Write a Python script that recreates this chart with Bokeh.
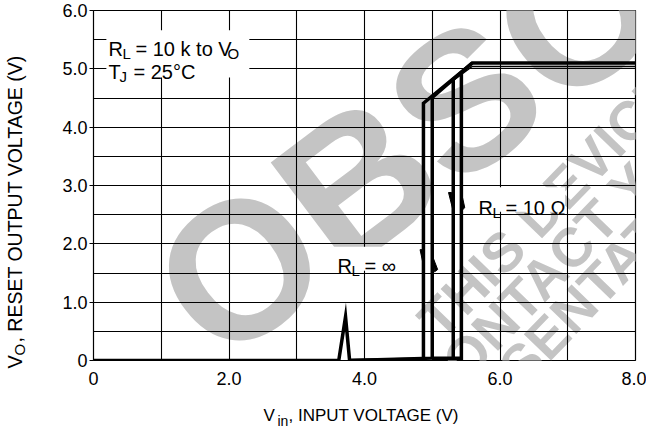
import math
from bokeh.plotting import figure
from bokeh.layouts import row, column
from bokeh.models import FixedTicker, Label, BoxAnnotation, Range1d
from bokeh.embed import file_html
from bokeh.resources import INLINE

# ---------------- data ----------------
x_ticks = [0, 2, 4, 6, 8]
x_tick_labels = ["0", "2.0", "4.0", "6.0", "8.0"]
y_ticks = [0, 1, 2, 3, 4, 5, 6]
y_tick_labels = ["0", "1.0", "2.0", "3.0", "4.0", "5.0", "6.0"]
x_grid = [0, 1, 2, 3, 4, 5, 6, 7, 8]
y_grid = [0, 0.5, 1, 1.5, 2, 2.5, 3, 3.5, 4, 4.5, 5, 5.5, 6]

# R_L = infinity : rising Vin path and falling Vin path
inf_up_x = [0.0, 3.62, 3.72, 3.78, 5.00, 5.00, 5.59, 8.0]
inf_up_y = [0.0, 0.0, 0.75, 0.0, 0.04, 4.51, 5.10, 5.10]
inf_dn_x = [5.59, 4.87, 4.87, 3.78]
inf_dn_y = [5.10, 4.41, 0.02, 0.0]

# R_L = 10 ohm : rising and falling paths
r10_up_x = [5.00, 5.43, 5.43]
r10_up_y = [0.04, 0.04, 4.93]
r10_dn_x = [5.31, 5.31]
r10_dn_y = [4.84, 0.04]
r10_top_x = [8.0, 5.59, 5.31]
r10_top_y = [5.04, 5.04, 4.80]

# direction arrowheads on the hysteresis lines
arrow_xs = [[4.82, 4.865, 4.885], [5.00, 5.035, 5.08],
            [5.24, 5.285, 5.305], [5.43, 5.445, 5.48]]
arrow_ys = [[1.90, 1.90, 1.55], [1.80, 1.52, 1.56],
            [2.88, 2.88, 2.58], [2.88, 2.58, 2.62]]

FONT = "Liberation Sans"
W, H = 646, 428
YT_W = 40          # strip holding the y-axis title
XT_H = 36          # strip holding the x-axis title
PW, PH = W - YT_W, H - XT_H
L_B, R_B, T_B, B_B = 93 - YT_W, 11, 10, 32

p = figure(width=PW, height=PH, x_range=(0, 8), y_range=(0, 6),
           output_backend="svg", toolbar_location=None,
           min_border_left=L_B, min_border_right=R_B, min_border_top=T_B,
           min_border_bottom=B_B, background_fill_color="white",
           border_fill_color="white")
p.outline_line_color = "black"
p.outline_line_width = 1.2

# grid
p.xgrid.ticker = FixedTicker(ticks=x_grid)
p.ygrid.ticker = FixedTicker(ticks=y_grid)
for g in (p.xgrid, p.ygrid):
    g.grid_line_color = "black"
    g.grid_line_width = 1.1
    g.grid_line_alpha = 1.0

# axes
p.xaxis.ticker = FixedTicker(ticks=x_ticks)
p.xaxis.major_label_overrides = {t: l for t, l in zip(x_ticks, x_tick_labels)}
p.yaxis.ticker = FixedTicker(ticks=y_ticks)
p.yaxis.major_label_overrides = {t: l for t, l in zip(y_ticks, y_tick_labels)}
for ax in (p.xaxis, p.yaxis):
    ax.axis_line_color = None
    ax.minor_tick_line_color = None
    ax.major_tick_in = 0
    ax.major_label_text_font = FONT
    ax.major_label_text_font_size = "18px"
    ax.major_label_text_color = "black"
    ax.major_tick_line_color = "black"
p.xaxis.major_tick_out = 0
p.xaxis.major_label_standoff = 11
p.yaxis.major_tick_out = 4
p.yaxis.major_label_standoff = 2

FX0, FY0 = 93, 360                 # frame origin in page px
SX = (W - 93 - R_B) / 8.0
SY = (360 - T_B) / 6.0

def at(px, py):
    return (px - FX0) / SX, (FY0 - py) / SY

# watermark (drawn beneath the grid)
WM = "#c4c4c4"
def wm(text, px, py, size, ang):
    x, y = at(px, py)
    p.add_layout(Label(x=x, y=y, text=text, angle=math.radians(ang),
                       text_font=FONT, text_font_style="bold",
                       text_font_size=size, text_color=WM, level="image"))

wm("OBSOLETE", 244, 401, "195px", 37)
wm("THIS DEVICE IS OBSOLETE", 450, 350, "55px", 46)
wm("PLEASE CONTACT YOUR", 283, 590, "55px", 46)
wm("ON SEMICONDUCTOR REPRESENTATIVE", -20, 968, "55px", 46)

# curves
for xs, ys, w in ((inf_up_x, inf_up_y, 3.5), (inf_dn_x, inf_dn_y, 3.5),
                  (r10_up_x, r10_up_y, 3.5), (r10_dn_x, r10_dn_y, 3.5),
                  (r10_top_x, r10_top_y, 1.5)):
    p.line(xs, ys, line_color="black", line_width=w, line_join="miter")
p.patches(arrow_xs, arrow_ys, fill_color="black", line_color="black",
          line_width=1)

# white label boxes
for l, r, t, b in ((0.19, 2.30, 5.66, 4.85), (3.55, 4.50, 1.95, 1.54),
                   (5.60, 6.96, 2.97, 2.55)):
    p.add_layout(BoxAnnotation(left=l, right=r, top=t, bottom=b,
                               fill_color="white", fill_alpha=1.0,
                               line_alpha=0, level="annotation"))

def run(fig, x, y, pieces, angle=0.0, units="data"):
    """pieces: (text, size_px, x_off, y_off)"""
    for text, size, xo, yo in pieces:
        fig.add_layout(Label(x=x, y=y, x_units=units, y_units=units,
                             text=text, text_font=FONT,
                             text_font_size=f"{size}px", text_color="black",
                             x_offset=xo, y_offset=yo, angle=angle,
                             text_baseline="alphabetic"))

run(p, *at(108, 48), [("R", 20, 0, 0), ("L", 15, 14, -5),
                      ("= 10 k to V", 20, 27, 0), ("O", 15, 119, -5)])
run(p, *at(108, 71), [("T", 20, 0, 0), ("J", 15, 11, -5),
                      ("= 25°C", 20, 25, 0)])
run(p, *at(337, 265), [("R", 20, 0, 0), ("L", 15, 14, -5), ("= ∞", 20, 27, 0)])
run(p, *at(478, 207), [("R", 20, 0, 0), ("L", 15, 14, -5),
                       ("= 10 Ω", 20, 27, 0)])

# strips for the axis titles (labels placed in canvas pixels)
def strip(w, h):
    f = figure(width=w, height=h, x_range=Range1d(0, 1),
               y_range=Range1d(0, 1), x_axis_type=None, y_axis_type=None,
               output_backend="svg", toolbar_location=None, min_border=0,
               background_fill_color="white", border_fill_color="white")
    f.outline_line_color = None
    f.grid.visible = False
    return f

fx = strip(PW, XT_H)
run(fx, 263 - YT_W, 415 - PH, [("V", 17, 0, 0), ("in", 14, 14, -5),
                               (", INPUT VOLTAGE (V)", 17, 25, 0)],
    units="canvas")

fy = strip(YT_W, H)
run(fy, 14, 368, [("V", 20, 0, 0), ("O", 15, 5, 13),
                  (", RESET OUTPUT VOLTAGE (V)", 19.5, 0, 26)],
    angle=math.pi / 2, units="canvas")

layout = row(fy, column(p, fx, spacing=0), spacing=0)
open("out.html", "w").write(file_html(layout, INLINE))
